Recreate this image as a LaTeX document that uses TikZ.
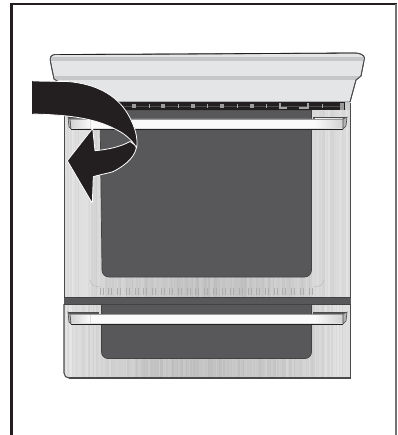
\documentclass[tikz,border=0pt]{standalone}
\usetikzlibrary{calc}
\definecolor{winc}{HTML}{58585A}
\definecolor{panelc}{HTML}{E4E5E6}
\definecolor{bandc}{HTML}{C6C7C8}
\definecolor{inkc}{HTML}{231F20}
\definecolor{edgec}{HTML}{4A4A4C}
\tikzset{
  frameline/.style={inkc,line width=2.4pt},
  darkpane/.style={fill=winc,draw=inkc!85,line width=.7pt},
  tipshape/.style={fill=inkc,draw=white,line width=.8pt,line join=round},
  tickthin/.style={white!65!black,line width=.6pt},
  ticksquare/.style={fill=white!62!black,draw=none}
}
\newcommand{\steelstripes}[3]{%
  \pgfmathsetseed{#3}%
  \foreach \xx in {64,65.5,...,351}{%
    \pgfmathrandominteger{\rr}{0}{5}%
    \pgfmathtruncatemacro{\gg}{10+12*sin(0.627*(\xx-64))+\rr}%
    \fill[black!\gg!white] (\xx,#1) rectangle (\xx+1.6,#2);
  }}
\newcommand{\barunit}[1]{%
  \fill[winc] (68.5,#1) rectangle (99,#1+2);
  \fill[winc] (313,#1) rectangle (347,#1+2);
  \draw[edgec,line width=.6pt] (68,#1+2) -- (68,#1) -- (99,#1);
  \draw[edgec,line width=.6pt] (313,#1+2) -- (313,#1) -- (347,#1);
  \fill[white!98!black] (70,#1+2) -- (343,#1+2) -- (343,#1+12) -- (71,#1+12) -- cycle;
  \fill[left color=white!82!black,right color=white!98!black] (70,#1+2) -- (90,#1+2) -- (90,#1+12) -- (71,#1+12) -- cycle;
  \fill[left color=white!98!black,right color=white!82!black] (315,#1+2) rectangle (343,#1+12);
  \fill[white!88!black] (70,#1+10.8) rectangle (343,#1+12);
  \draw[inkc,line width=.8pt] (71,#1+12.4) -- (343,#1+12.4);
  \draw[white!60!black,line width=.3pt] (70,#1+2) -- (343,#1+2);
  \filldraw[fill=white!70!black,draw=edgec,line width=.6pt] (343,#1+2) -- (347,#1) -- (346,#1+9) -- (343,#1+12) -- cycle;
  \filldraw[fill=white!70!black,draw=edgec,line width=.6pt] (68,#1) -- (70,#1+2) -- (71,#1+12) -- (69,#1+10) -- cycle;
}
\begin{document}
\begin{tikzpicture}[x=1pt,y=-1pt,line cap=butt]
\useasboundingbox (0,0) rectangle (397,435);
\fill[white] (0,0) rectangle (397,435);
% outer frame
\draw[frameline] (11.5,435) -- (11.5,4) -- (397,4);
\draw[white!45!black,line width=1.6pt] (395.8,4) -- (395.8,435);
% upper door
\begin{scope}
  \clip (64,103) rectangle (350.5,298);
  \steelstripes{103}{298}{11}
  \foreach \xx in {100,108.7,...,311}{
    \draw[white!68!black,line width=.6pt] (\xx,288) -- (\xx,295);
    \draw[white!68!black,line width=.6pt] (\xx+3,288) -- (\xx+3,295);
  }
\end{scope}
\draw[white!72!black,line width=.4pt] (90,280) .. controls (91,285) and (95,287) .. (101,287);
\draw[white!72!black,line width=.4pt] (313,287) .. controls (320,287) and (323,285) .. (324,280);
\draw[edgec,line width=.9pt] (64.3,110) -- (64.3,298);
\draw[edgec,line width=.9pt] (350.5,103) -- (350.5,298);
% upper window
\path[darkpane] (100,110) -- (311.5,110) -- (311.5,270) arc[start angle=0,end angle=90,radius=7] -- (109,277) arc[start angle=90,end angle=180,radius=7] -- cycle;
% control strip
\fill[inkc] (100,102) rectangle (345,110.5);
\fill[white!80!black] (345,103) rectangle (350,110);
\draw[white!30!black,line width=.4pt] (100,106.3) -- (341,106.3);
\foreach \xx in {134,163,193,222,252}{\fill[ticksquare] (\xx-2,104) rectangle (\xx+2,108.5);}
\foreach \xx in {149,178,207,237,266,322}{\draw[tickthin] (\xx,104) -- (\xx,108.5);}
\fill[white!65!black] (279,103.5) rectangle (281,109);
\fill[white!65!black] (281,107) rectangle (287,109);
\fill[white!65!black] (307,103.5) rectangle (309,109);
\fill[white!65!black] (299,107) rectangle (307,109);
\fill[white!60!black] (340,103.5) rectangle (344,110);
% top panel
\filldraw[fill=panelc,draw=edgec,line width=.8pt,line join=round]
  (66,102) -- (59,82) -- (54,79) -- (50.5,62) .. controls (49.5,57) and (51,55) .. (55,54.5)
  -- (200,54) -- (355,53) .. controls (360,53) and (364,55) .. (364.5,58)
  -- (361,76) -- (356,80) -- (350,102) -- cycle;
\begin{scope}
  \clip (66,102) -- (59,82) -- (54,79) -- (50.5,62) .. controls (49.5,57) and (51,55) .. (55,54.5)
  -- (200,54) -- (355,53) .. controls (360,53) and (364,55) .. (364.5,58)
  -- (361,76) -- (356,80) -- (350,102) -- cycle;
  \fill[bandc] (45,57.5) rectangle (370,61);
  \fill[bandc] (45,76) rectangle (370,80.5);
\end{scope}
\draw[inkc,line width=.8pt] (60,54.6) -- (355,53);
\draw[edgec,line width=.9pt] (66,102) -- (59,82) -- (54,79) -- (50.5,62) .. controls (49.5,57) and (51,55) .. (55,54.5);
\draw[edgec,line width=.9pt] (355,53) .. controls (360,53) and (364,55) .. (364.5,58) -- (361,76) -- (356,80) -- (350,102);
\fill[inkc] (100,102) rectangle (345,103.5);
% handle of the door
\barunit{117}
% lower drawer
\begin{scope}
  \clip (64,304) rectangle (350.5,378);
  \steelstripes{304}{378}{23}
\end{scope}
\fill[white] (63,373) -- (63,379) -- (69,379) -- (69,378) arc[start angle=90,end angle=180,radius=5] -- cycle;
\draw[edgec,line width=1.1pt] (69,378) arc[start angle=90,end angle=180,radius=5] -- (64,304);
\draw[edgec,line width=1.1pt] (69,378) -- (350.5,378) -- (350.5,304);
\path[darkpane] (101.5,304) -- (311.5,304) -- (311.5,352) arc[start angle=0,end angle=90,radius=6.5] -- (108,358.5) arc[start angle=90,end angle=180,radius=6.5] -- cycle;
% dark band between door and drawer
\fill[winc] (64,297.5) rectangle (350.5,304.5);
\draw[inkc!85,line width=.8pt] (64,297.5) -- (350.5,297.5);
\draw[inkc!85,line width=.5pt] (64,304.5) -- (350.5,304.5);
\barunit{312}
% turning arrow, back part first
\filldraw[tipshape] (136.5,146) .. controls (136,155) and (128,164) .. (113,171.7) .. controls (105,174) and (98,175) .. (93.3,176.7)
  -- (92.3,203.3) -- (67.3,160.7) -- (92.7,128.3) -- (95,150.7) .. controls (108,149.5) and (120,147) .. (130,141.5) -- cycle;
\filldraw[tipshape] (32.3,81) -- (67,81.5) .. controls (100,84) and (120,98) .. (130,118) .. controls (135,128) and (138,137) .. (136.7,148)
  .. controls (132,140) and (125,134) .. (117,130) .. controls (100,121) and (80,115) .. (32.3,114) -- cycle;
\fill[inkc] (31.8,81) rectangle (33,114);
\end{tikzpicture}
\end{document}
